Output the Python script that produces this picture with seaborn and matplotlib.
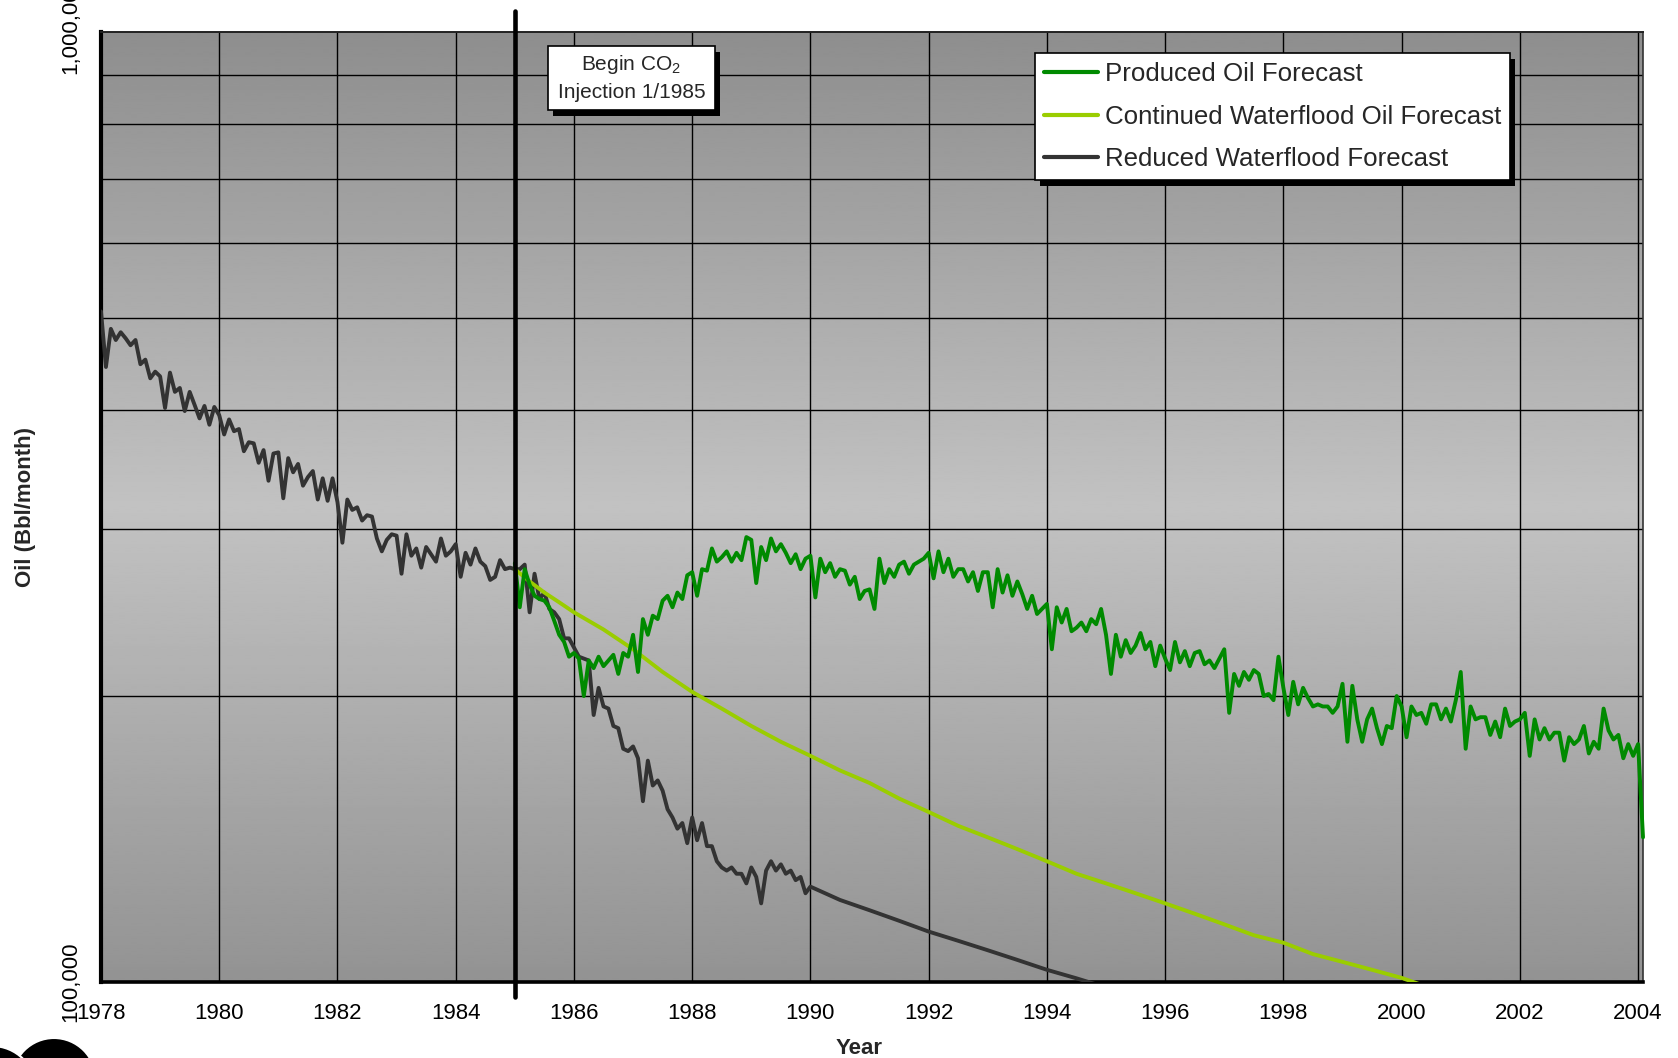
import numpy as np
import pandas as pd
import matplotlib
matplotlib.use("Agg")
import matplotlib.pyplot as plt
import seaborn as sns
from matplotlib.ticker import LogLocator, NullFormatter, FixedLocator
from matplotlib.patches import Rectangle, Ellipse
from matplotlib.transforms import ScaledTranslation

# ---------------- data (thousand Bbl / month) ----------------
history_start = 1978.0
history_oil = [508, 444, 487, 474, 483, 476, 468, 474, 447, 452, 432, 439,
               434, 402, 438, 418, 422, 399, 418, 405, 392, 404, 386, 403,
               395, 377, 391, 380, 382, 362, 370, 369, 352, 363, 337, 360,
               361, 323, 356, 344, 351, 333, 340, 345, 322, 339, 321, 339,
               320, 290, 322, 314, 316, 306, 310, 309, 293, 284, 292, 296,
               295, 269, 296, 281, 286, 273, 287, 282, 277, 293, 281, 284,
               289, 267, 283, 275, 286, 277, 274, 265, 267, 278, 272, 273]

forecast_start = 1985.0
reduced_oil = [272, 272, 275, 245, 269, 253, 257, 247, 245, 241, 230, 230,
               225, 220, 219, 218, 191, 204, 195, 194, 186, 185, 176, 175,
               177, 172, 155, 171, 161, 163, 159, 152, 149, 145, 147, 140,
               149, 141, 147, 139, 139, 134, 132, 131, 132, 130, 130, 127,
               132, 129, 121, 131, 134, 131, 133, 130, 131, 128, 129, 124,
               126]
reduced_tail_years = [1990.5, 1991.0, 1991.5, 1992.0, 1992.5, 1993.0,
                      1993.5, 1994.0, 1994.5, 1995.0]
reduced_tail_oil = [122, 119, 116, 113, 110.5, 108, 105.5, 103, 100.9, 98.7]

continued_years = [1985.0, 1985.25, 1985.5, 1985.75, 1986.0, 1986.5, 1987.0,
                   1987.5, 1988.0, 1988.5, 1989.0, 1989.5, 1990.0, 1990.5,
                   1991.0, 1991.5, 1992.0, 1992.5, 1993.0, 1993.5, 1994.0,
                   1994.5, 1995.0, 1995.5, 1996.0, 1996.5, 1997.0, 1997.5,
                   1998.0, 1998.5, 1999.0, 1999.5, 2000.0, 2000.5]
continued_oil = [272, 264, 257, 251, 245, 235, 224, 212, 202, 194, 186, 179,
                 173, 167, 162, 156, 151, 146, 142, 138, 134, 130, 127, 124,
                 121, 118, 115, 112, 110, 107, 105, 103, 101, 98.5]

produced_oil = [276, 248, 272, 262, 255, 253, 252, 248, 240, 232, 228, 220,
                222, 219, 200, 218, 214, 220, 215, 218, 221, 211, 222, 220,
                232, 212, 241, 232, 243, 241, 252, 255, 248, 257, 253, 268,
                270, 255, 272, 271, 286, 277, 280, 284, 277, 283, 278, 294,
                292, 263, 287, 278, 293, 284, 289, 283, 276, 282, 272, 279,
                281, 254, 279, 270, 276, 267, 272, 271, 262, 267, 253, 258,
                259, 247, 279, 263, 272, 267, 275, 277, 269, 275, 277, 279,
                283, 266, 284, 270, 279, 267, 272, 272, 264, 270, 258, 270,
                270, 248, 272, 257, 268, 255, 264, 256, 247, 255, 244, 247,
                250, 224, 248, 239, 247, 234, 236, 239, 234, 241, 238, 247,
                232, 211, 232, 220, 229, 222, 226, 233, 224, 228, 215, 226,
                219, 213, 228, 217, 223, 215, 222, 223, 216, 218, 214, 219,
                224, 192, 211, 205, 212, 208, 213, 211, 200, 201, 198, 220,
                204, 191, 207, 196, 204, 199, 195, 196, 195, 195, 192, 195,
                206, 179, 205, 189, 179, 189, 194, 185, 178, 186, 185, 200,
                195, 181, 195, 191, 192, 187, 196, 196, 189, 194, 188, 198,
                212, 176, 195, 189, 190, 190, 182, 188, 181, 194, 186, 188,
                189, 192, 173, 189, 180, 185, 180, 183, 183, 171, 181, 178,
                180, 186, 174, 179, 176, 194, 184, 180, 182, 172, 178, 173,
                178, 142]

year_ticks = list(range(1978, 2005, 2))
y_ticks = [100000, 1000000]
y_tick_labels = ["100,000", "1,000,000"]
series_names = ["Produced Oil Forecast", "Continued Waterflood Oil Forecast",
                "Reduced Waterflood Forecast"]
series_colors = ["#008A00", "#9ACD00", "#333333"]

# ---------------- frames ----------------
hist_years = history_start + np.arange(len(history_oil)) / 12
red_years = forecast_start + np.arange(len(reduced_oil)) / 12
prod_years = forecast_start + np.arange(len(produced_oil)) / 12

df_reduced = pd.DataFrame({
    "Year": np.concatenate([hist_years, red_years, reduced_tail_years]),
    "Oil": np.concatenate([history_oil, reduced_oil, reduced_tail_oil]) * 1000.0})
df_continued = pd.DataFrame({"Year": continued_years,
                             "Oil": np.array(continued_oil) * 1000.0})
df_produced = pd.DataFrame({"Year": prod_years,
                            "Oil": np.array(produced_oil) * 1000.0})

# ---------------- style ----------------
sns.set_theme(style="white")
plt.rcParams["font.family"] = ["Liberation Sans", "DejaVu Sans"]
plt.rcParams["mathtext.fontset"] = "custom"
plt.rcParams["mathtext.rm"] = "Liberation Sans"
plt.rcParams["mathtext.default"] = "regular"

W, H = 1678, 1058
fig = plt.figure(figsize=(W / 100, H / 100), dpi=100)
fig.patch.set_facecolor("white")

L, R, T, B = 101, 1643, 32, 982
pos = [L / W, 1 - B / H, (R - L) / W, (B - T) / H]

# gradient background
bg = fig.add_axes(pos)
bg.set_zorder(-1)
fr = np.linspace(0, 1, 400)
shade = np.interp(fr, [0.0, 0.5, 1.0], [142, 194, 147])
bg.imshow(shade[:, None], aspect="auto", cmap="gray", vmin=0, vmax=255,
          extent=[0, 1, 0, 1], interpolation="bilinear")
bg.set_axis_off()

ax = fig.add_axes(pos)
ax.set_facecolor("none")

LW = 2.8
sns.lineplot(data=df_reduced, x="Year", y="Oil", ax=ax, color=series_colors[2],
             linewidth=LW, label=series_names[2], sort=False, zorder=3)
sns.lineplot(data=df_continued, x="Year", y="Oil", ax=ax, color=series_colors[1],
             linewidth=LW, label=series_names[1], sort=False, zorder=3)
sns.lineplot(data=df_produced, x="Year", y="Oil", ax=ax, color=series_colors[0],
             linewidth=LW, label=series_names[0], sort=False, zorder=4)
for ln in ax.get_lines():
    if ln.get_color() == series_colors[0]:
        ln.set_clip_on(False)

ax.set_yscale("log")
ax.set_ylim(1e5, 1e6)
ax.set_xlim(1978, 2004.083)

ax.set_xticks(year_ticks)
ax.set_xticklabels([str(y) for y in year_ticks], fontsize=16)
ax.yaxis.set_major_locator(FixedLocator(y_ticks))
ax.set_yticklabels(y_tick_labels, fontsize=16, rotation=90, va="center")
ax.yaxis.set_minor_locator(LogLocator(base=10, subs=range(2, 10)))
ax.yaxis.set_minor_formatter(NullFormatter())
ax.tick_params(axis="y", which="minor", length=0)
ax.tick_params(axis="both", which="major", direction="out", length=5,
               width=2, color="black", labelcolor="black")
ax.tick_params(axis="x", pad=10)
ax.tick_params(axis="y", pad=9)

ax.grid(True, axis="y", which="minor", color="black", linewidth=1.0)
ax.grid(True, axis="x", which="major", color="black", linewidth=1.0)
ax.set_axisbelow(True)

for side, lw, col in [("left", 3.0, "black"), ("bottom", 2.6, "black"),
                      ("top", 1.4, "#222222"), ("right", 1.2, "#333333")]:
    ax.spines[side].set_visible(True)
    ax.spines[side].set_linewidth(lw)
    ax.spines[side].set_color(col)

ax.set_xlabel("Year", fontsize=16, fontweight="bold")
ax.set_ylabel("Oil (Bbl/month)", fontsize=16, fontweight="bold")
ax.xaxis.set_label_coords(0.4916, -0.059)
ax.yaxis.set_label_coords(-0.042, 0.5)

# CO2 injection start line
ax.axvline(1985, ymin=-0.016, ymax=1.0224, color="black", lw=3.3,
           clip_on=False, zorder=6)

# annotation box with shadow
bx0, bx1 = (548 - L) / (R - L), (715 - L) / (R - L)
by0, by1 = (B - 110) / (B - T), (B - 46) / (B - T)
sx, sy = 5 / (R - L), 6 / (B - T)
ax.add_patch(Rectangle((bx0 + sx, by0 - sy), bx1 - bx0, by1 - by0,
                       transform=ax.transAxes, facecolor="black",
                       edgecolor="none", zorder=7, clip_on=False))
ax.add_patch(Rectangle((bx0, by0), bx1 - bx0, by1 - by0,
                       transform=ax.transAxes, facecolor="white",
                       edgecolor="black", lw=1.2, zorder=8, clip_on=False))
ax.text((bx0 + bx1) / 2, (B - 64) / (B - T), "Begin CO$_2$",
        transform=ax.transAxes, ha="center", va="center", fontsize=15,
        zorder=9)
ax.text((bx0 + bx1) / 2, (B - 92) / (B - T), "Injection 1/1985",
        transform=ax.transAxes, ha="center", va="center", fontsize=15,
        zorder=9)

# legend in reference order
handles, labels = ax.get_legend_handles_labels()
order = [labels.index(n) for n in series_names]
leg = ax.legend([handles[i] for i in order], [labels[i] for i in order],
                loc="upper left", bbox_to_anchor=((1035 - L) / (R - L), (B - 53) / (B - T)),
                fontsize=18.6, frameon=True, fancybox=False, edgecolor="black",
                framealpha=1, borderpad=0.35, labelspacing=0.72,
                handlelength=2.1, handletextpad=0.25, borderaxespad=0)
leg.get_frame().set_linewidth(1.2)
leg.set_zorder(10)
for lh in leg.get_lines():
    lh.set_linewidth(3)

fig.canvas.draw()
bb = leg.get_window_extent(fig.canvas.get_renderer())
inv = ax.transAxes.inverted()
(lx0, ly0) = inv.transform((bb.x0 + 5, bb.y0 - 6))
(lx1, ly1) = inv.transform((bb.x1 + 5, bb.y1 - 6))
ax.add_patch(Rectangle((lx0, ly0), lx1 - lx0, ly1 - ly0, transform=ax.transAxes,
                       facecolor="black", edgecolor="none", zorder=9.5,
                       clip_on=False))

# top tick label sits a little higher in the reference
top_lab = ax.yaxis.get_major_ticks()[1].label1
top_lab.set_transform(top_lab.get_transform() +
                      ScaledTranslation(0, 7 / 100, fig.dpi_scale_trans))

# corner logo fragment
for cx, cy, r in [(54, 1080, 42), (-8, 1090, 44)]:
    fig.add_artist(Ellipse((cx / W, 1 - cy / H), 2 * r / W, 2 * r / H,
                           transform=fig.transFigure, facecolor="black",
                           edgecolor="white", lw=1.5))

fig.savefig("out.png", dpi=100)
